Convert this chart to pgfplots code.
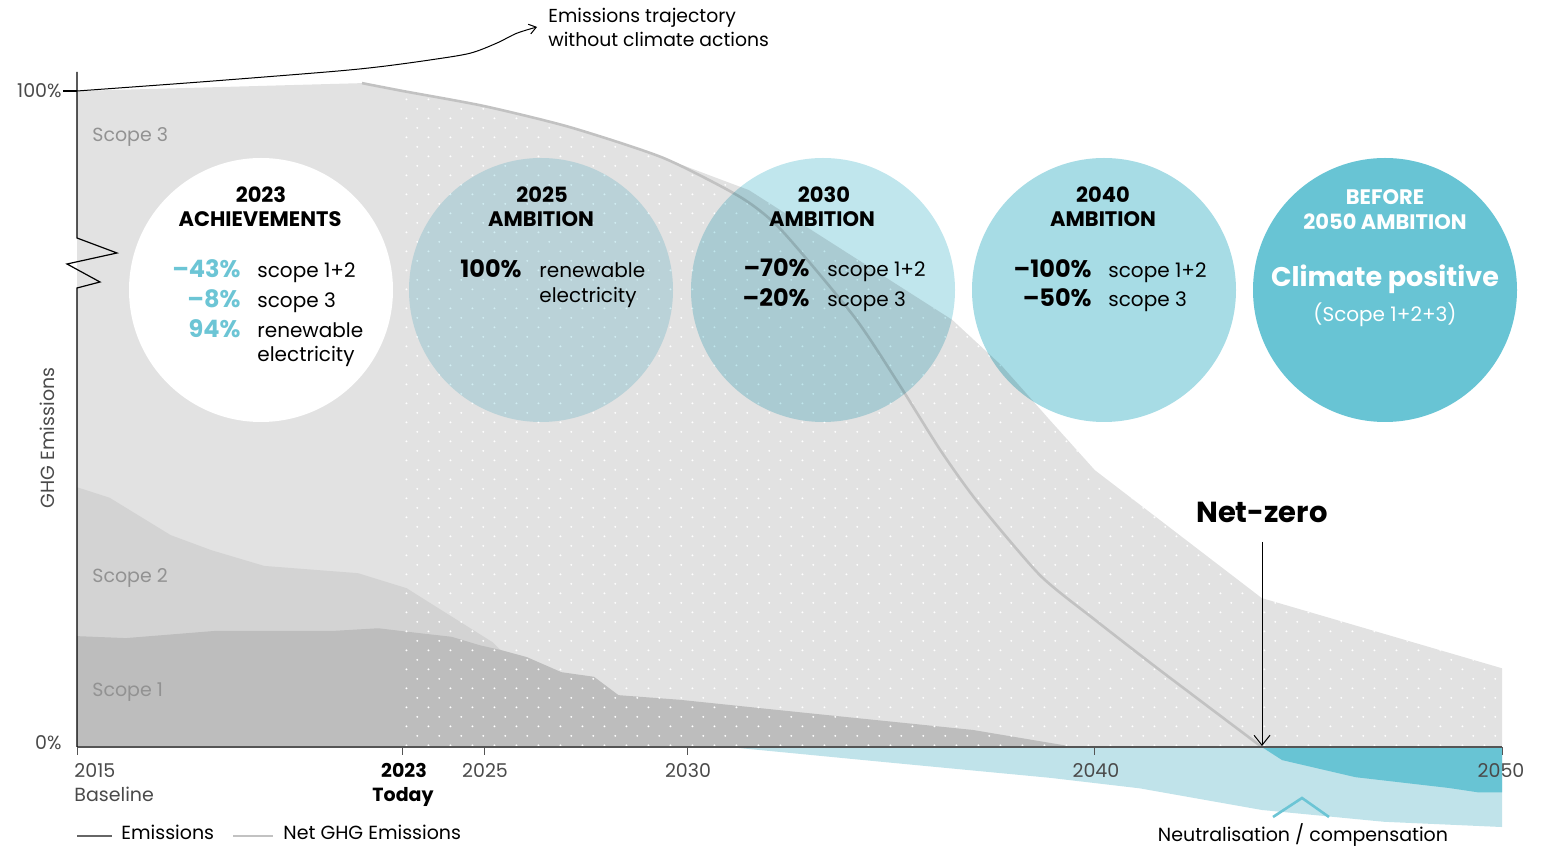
\documentclass[border=0pt]{standalone}
\usepackage{fontspec}
\setmainfont{Poppins}
\usepackage{pgfplots}
\pgfplotsset{compat=1.18}
\usetikzlibrary{patterns.meta, arrows.meta}

\definecolor{sthree}{HTML}{E2E2E2}
\definecolor{stwo}{HTML}{D3D3D3}
\definecolor{sone}{HTML}{BDBDBD}
\definecolor{netline}{HTML}{C2C2C2}
\definecolor{cA}{HTML}{D2EEF4}
\definecolor{cB}{HTML}{C0E6ED}
\definecolor{cC}{HTML}{A7DCE5}
\definecolor{cD}{HTML}{68C4D4}
\definecolor{neutral}{HTML}{C0E3EA}
\definecolor{pct}{HTML}{6CC5D5}
\definecolor{scopelbl}{HTML}{929292}
\definecolor{axisgray}{HTML}{555555}
\definecolor{lighttext}{HTML}{4A4A4A}

% staggered white dots used on the projected part of the emissions area
\tikzdeclarepattern{
  name=stagdots,
  type=uncolored,
  bounding box={(0,0) and (11.15pt,9.7pt)},
  tile size={(11.15pt,9.7pt)},
  code={
    \fill (2.8pt,2.4pt) circle (0.55pt);
    \fill (8.37pt,7.25pt) circle (0.55pt);
  }
}

\newcommand\fhead{\fontsize{10.5}{12}\selectfont\bfseries}
\newcommand\fbig{\fontsize{12}{14}\selectfont\bfseries}
\newcommand\fbody{\fontsize{10}{12}\selectfont}
\newcommand\ftick{\fontsize{9.5}{11}\selectfont}

\begin{document}
\begin{tikzpicture}
\path[use as bounding box] (0,0) rectangle (772pt,423.5pt);

\begin{axis}[
    at={(38.5pt,50pt)}, anchor=south west,
    scale only axis,
    width=712.5pt, height=328pt,
    xmin=2015, xmax=2050, ymin=0, ymax=100,
    clip=false,
    axis on top,
    hide y axis,
    axis x line*=bottom,
    x axis line style={draw=axisgray, line width=0.9pt, -},
    xtick={2015,2023,2025,2030,2040,2050},
    xticklabels={,,},
    tick align=outside,
    major tick length=4pt,
    x tick style={draw=axisgray, line width=0.5pt},
]
% Scope 3 (total emissions)
\addplot[fill=sthree, draw=none] coordinates {
    (2015,0) (2015,100) (2022,101.2) (2023,100.0) (2025,97.7) (2027.1,94.5)
    (2029.4,89.8) (2031.5,84.9) (2034,75.0) (2036.5,65.1) (2037.7,58.2)
    (2038.9,49.8) (2040,42.2) (2044.1,22.7) (2050,12.0) (2050,0)
};
% Scope 1+2
\addplot[fill=stwo, draw=none] coordinates {
    (2015,0) (2015,39.6) (2015.8,38.0) (2017.3,32.3) (2018.3,30.0) (2019.6,27.6)
    (2021.9,26.5) (2023.1,24.2) (2023.25,23.6) (2025.2,16.0) (2025.4,14.8) (2025.4,0)
};
% Scope 1
\addplot[fill=sone, draw=none] coordinates {
    (2015,0) (2015,16.9) (2016.2,16.6) (2018.4,17.7) (2021.3,17.7) (2022.4,18.1)
    (2023.35,17.4) (2024.2,16.8) (2024.9,15.5) (2025.4,14.8) (2026.05,13.7)
    (2026.9,11.4) (2027.7,10.7) (2028.3,7.9) (2029.8,7.2) (2032.9,5.2)
    (2037,2.6) (2039.5,0)
};
% dotted projection from 2023
\addplot[draw=none, pattern=stagdots, pattern color=white] coordinates {
    (2023,0) (2023,100.0) (2025,97.7) (2027.1,94.5)
    (2029.4,89.8) (2031.5,84.9) (2034,75.0) (2036.5,65.1) (2037.7,58.2)
    (2038.9,49.8) (2040,42.2) (2044.1,22.7) (2050,12.0) (2050,0)
};
% neutralisation / compensation
\addplot[fill=neutral, draw=none] coordinates {
    (2031,0) (2035,-2.4) (2038.9,-4.7) (2041.1,-6.3) (2044.1,-9.6)
    (2047.1,-11.4) (2050,-12.2) (2050,0)
};
\addplot[fill=cD, draw=none] coordinates {
    (2044.1,0) (2044.6,-2.0) (2046.4,-4.6) (2048.7,-6.25) (2049.4,-6.9)
    (2050,-6.9) (2050,0)
};
% net GHG emissions
\addplot[netline, line width=1.3pt, smooth, tension=0.4] coordinates {
    (2022,101.2) (2023,100.0) (2025,97.7) (2027.1,94.5) (2029.4,89.8)
    (2031.3,83.8) (2032.3,78.8) (2034.1,65.5) (2035.2,55.2) (2036.2,45.3)
    (2037.1,37.5) (2038.65,26.2) (2040,19.4) (2041.6,11.7) (2044.1,0)
};
% trajectory without climate actions
\addplot[black, line width=0.5pt, smooth, -{Straight Barb[length=3.5pt,width=5pt]}] coordinates {
    (2015,100) (2018.02,101.37) (2021.21,102.94) (2022.44,103.7) (2023.67,104.73)
    (2024.65,105.75) (2025.31,107.3) (2025.8,108.8) (2026.3,109.76)
};
\end{axis}

\begin{scope}[x=0.5pt, y=-0.5pt, yshift=423.5pt]
% y axis with break
\draw[black, line width=0.6pt] (77,72) -- (77,238) -- (117,253) -- (67,264)
    -- (100,282) -- (77,288) -- (77,747);
\draw[black, line width=0.6pt] (63,91) -- (77,91);
\node[anchor=base east, inner sep=0, font=\ftick, text=lighttext] at (62,98) {100\%};
\node[anchor=base east, inner sep=0, font=\ftick, text=lighttext] at (62,750) {0\%};
\node[rotate=90, inner sep=0, font=\ftick, text=lighttext] at (47,438) {GHG Emissions};

% scope labels
\node[anchor=base west, inner sep=0, font=\fontsize{9.5}{11}\selectfont, text=scopelbl] at (92,142) {Scope 3};
\node[anchor=base west, inner sep=0, font=\fontsize{9.5}{11}\selectfont, text=scopelbl] at (92,583) {Scope 2};
\node[anchor=base west, inner sep=0, font=\fontsize{9.5}{11}\selectfont, text=scopelbl] at (92,697) {Scope 1};

% x tick labels
\node[anchor=base west, inner sep=0, font=\ftick, text=lighttext] at (74,778) {2015};
\node[anchor=base west, inner sep=0, font=\ftick, text=lighttext] at (74,801) {Baseline};
\node[anchor=base, inner sep=0, font=\ftick\bfseries] at (404,778) {2023};
\node[anchor=base, inner sep=0, font=\ftick\bfseries] at (403,801) {Today};
\node[anchor=base, inner sep=0, font=\ftick, text=lighttext] at (485,778) {2025};
\node[anchor=base, inner sep=0, font=\ftick, text=lighttext] at (688,778) {2030};
\node[anchor=base, inner sep=0, font=\ftick, text=lighttext] at (1096,778) {2040};
\node[anchor=base, inner sep=0, font=\ftick, text=lighttext] at (1501,778) {2050};

% trajectory label
\node[anchor=base west, inner sep=0, font=\fontsize{9.4}{11}\selectfont] at (548,23) {Emissions trajectory};
\node[anchor=base west, inner sep=0, font=\fontsize{9.4}{11}\selectfont] at (548,47) {without climate actions};

% circles
\fill[white] (261,290) circle[radius=132];
\fill[cA, blend mode=multiply] (541,290) circle[radius=132];
\fill[cB, blend mode=multiply] (823,290) circle[radius=132];
\fill[cC, blend mode=multiply] (1104,290) circle[radius=132];
\fill[cD] (1385,290) circle[radius=132];

% 2023 achievements
\node[anchor=base, inner sep=0, font=\fhead] at (261,203) {2023};
\node[anchor=base, inner sep=0, font=\fhead] at (260,227) {ACHIEVEMENTS};
\node[anchor=base east, inner sep=0, font=\fbig, text=pct] at (241,278) {--43\%};
\node[anchor=base west, inner sep=0, font=\fbody] at (257,278) {scope 1+2};
\node[anchor=base east, inner sep=0, font=\fbig, text=pct] at (241,308) {--8\%};
\node[anchor=base west, inner sep=0, font=\fbody] at (257,308) {scope 3};
\node[anchor=base east, inner sep=0, font=\fbig, text=pct] at (241,338) {94\%};
\node[anchor=base west, inner sep=0, font=\fbody] at (257,338) {renewable};
\node[anchor=base west, inner sep=0, font=\fbody] at (257,362) {electricity};

% 2025 ambition
\node[anchor=base, inner sep=0, font=\fhead] at (542,203) {2025};
\node[anchor=base, inner sep=0, font=\fhead] at (541,227) {AMBITION};
\node[anchor=base east, inner sep=0, font=\fbig] at (522,278) {100\%};
\node[anchor=base west, inner sep=0, font=\fbody] at (539,278) {renewable};
\node[anchor=base west, inner sep=0, font=\fbody] at (539,303) {electricity};

% 2030 ambition
\node[anchor=base, inner sep=0, font=\fhead] at (824,203) {2030};
\node[anchor=base, inner sep=0, font=\fhead] at (822,227) {AMBITION};
\node[anchor=base east, inner sep=0, font=\fbig] at (810,277) {--70\%};
\node[anchor=base west, inner sep=0, font=\fbody] at (827,277) {scope 1+2};
\node[anchor=base east, inner sep=0, font=\fbig] at (810,307) {--20\%};
\node[anchor=base west, inner sep=0, font=\fbody] at (827,307) {scope 3};

% 2040 ambition
\node[anchor=base, inner sep=0, font=\fhead] at (1103,203) {2040};
\node[anchor=base, inner sep=0, font=\fhead] at (1103,227) {AMBITION};
\node[anchor=base east, inner sep=0, font=\fbig] at (1092,278) {--100\%};
\node[anchor=base west, inner sep=0, font=\fbody] at (1108,278) {scope 1+2};
\node[anchor=base east, inner sep=0, font=\fbig] at (1092,307) {--50\%};
\node[anchor=base west, inner sep=0, font=\fbody] at (1108,307) {scope 3};

% before 2050
\node[anchor=base, inner sep=0, font=\fhead, text=white] at (1385,205) {BEFORE};
\node[anchor=base, inner sep=0, font=\fhead, text=white] at (1385,230) {2050 AMBITION};
\node[anchor=base, inner sep=0, font=\fontsize{13.5}{16}\selectfont\bfseries, text=white] at (1385,287) {Climate positive};
\node[anchor=base, inner sep=0, font=\fbody, text=white] at (1385,322) {(Scope 1+2+3)};

% net-zero
\node[anchor=base, inner sep=0, font=\fontsize{14.5}{17}\selectfont\bfseries] at (1262,523) {Net-zero};
\draw[black, line width=0.5pt, -{Straight Barb[length=5pt,width=8pt]}] (1262,542) -- (1262,746);

% neutralisation
\draw[pct, line width=1.3pt] (1273,817) -- (1302,798) -- (1329,817);
\node[anchor=base, inner sep=0, font=\fontsize{9.5}{11}\selectfont] at (1303,842) {Neutralisation / compensation};

% legend
\draw[black!60, line width=0.7pt] (77,836) -- (112,836);
\node[anchor=base west, inner sep=0, font=\fontsize{9.5}{11}\selectfont] at (121,840) {Emissions};
\draw[netline, line width=1.4pt] (233,836) -- (273,836);
\node[anchor=base west, inner sep=0, font=\fontsize{9.5}{11}\selectfont] at (283,840) {Net GHG Emissions};
\end{scope}
\end{tikzpicture}
\end{document}
